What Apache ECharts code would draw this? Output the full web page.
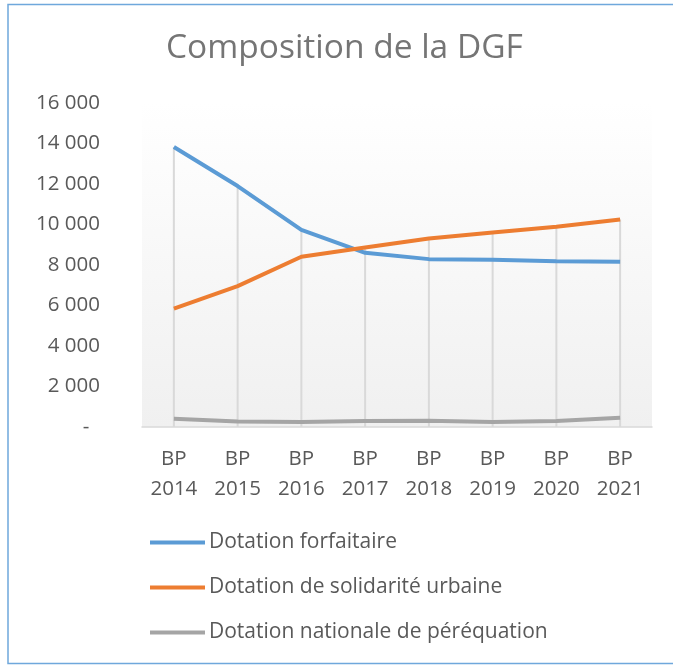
<!DOCTYPE html>
<html>
<head>
<meta charset="utf-8">
<script src="https://cdn.jsdelivr.net/npm/echarts@6/dist/echarts.min.js"></script>
<style>
  html, body { margin: 0; padding: 0; background: #fff; }
  #chart { width: 673px; height: 665px; }
</style>
</head>
<body>
<div id="chart"></div>
<script>
const years = ['BP\n2014', 'BP\n2015', 'BP\n2016', 'BP\n2017', 'BP\n2018', 'BP\n2019', 'BP\n2020', 'BP\n2021'];
const forfaitaire = [13830, 11900, 9730, 8600, 8290, 8260, 8180, 8160];
const solidarite = [5850, 6960, 8410, 8860, 9310, 9610, 9890, 10250];
const perequation = [410, 270, 250, 300, 310, 250, 300, 460];

// drop lines go from the highest series down to the axis
const dropTop = years.map((_, i) => Math.max(forfaitaire[i], solidarite[i], perequation[i]));

const FONT = 'Open Sans';
const chart = echarts.init(document.getElementById('chart'));

chart.setOption({
  animation: false,
  title: {
    text: 'Composition de la DGF',
    left: 161,
    top: 26,
    textStyle: { color: '#757575', fontSize: 33.5, fontWeight: 'normal', fontFamily: FONT }
  },
  grid: {
    left: 142, right: 21, top: 103, bottom: 238,
    show: true,
    borderWidth: 0,
    backgroundColor: new echarts.graphic.LinearGradient(0, 0, 0, 1, [
      { offset: 0, color: '#ffffff' },
      { offset: 1, color: '#f0f0f0' }
    ])
  },
  legend: {
    orient: 'vertical',
    left: 145,
    top: 527,
    itemGap: 24,
    itemWidth: 55,
    itemHeight: 4,
    icon: 'rect',
    textStyle: { color: '#595959', fontSize: 21, fontFamily: FONT, padding: [0, 0, 0, -1] },
    data: ['Dotation forfaitaire', 'Dotation de solidarité urbaine', 'Dotation nationale de péréquation']
  },
  xAxis: {
    type: 'category',
    data: years,
    axisLine: { lineStyle: { color: '#d9d9d9', width: 1.5 } },
    axisTick: { show: false },
    axisLabel: { color: '#595959', fontSize: 20.5, fontFamily: FONT, lineHeight: 30, margin: 17 }
  },
  yAxis: {
    type: 'value',
    min: 0,
    max: 16000,
    interval: 2000,
    splitLine: { show: false },
    axisLine: { show: false },
    axisTick: { show: false },
    axisLabel: {
      color: '#595959', fontSize: 20.5, fontFamily: FONT, margin: 42,
      formatter: v => v === 0 ? '-  ' : String(v).replace(/\B(?=(\d{3})+(?!\d))/g, ' ')
    }
  },
  series: [
    {
      type: 'bar',
      data: dropTop,
      barWidth: 2,
      silent: true,
      itemStyle: { color: '#d9d9d9' },
      z: 1
    },
    {
      name: 'Dotation forfaitaire',
      type: 'line',
      data: forfaitaire,
      symbol: 'none',
      color: '#5b9bd5',
      lineStyle: { width: 4, color: '#5b9bd5' },
      z: 3
    },
    {
      name: 'Dotation de solidarité urbaine',
      type: 'line',
      data: solidarite,
      symbol: 'none',
      color: '#ed7d31',
      lineStyle: { width: 4, color: '#ed7d31' },
      z: 3
    },
    {
      name: 'Dotation nationale de péréquation',
      type: 'line',
      data: perequation,
      symbol: 'none',
      color: '#a5a5a5',
      lineStyle: { width: 4, color: '#a5a5a5' },
      z: 3
    }
  ],
  graphic: [
    {
      type: 'rect',
      shape: { x: 8, y: 4.5, width: 680, height: 659 },
      style: { fill: 'none', stroke: '#6fa8dc', lineWidth: 1.5 },
      silent: true
    }
  ]
});
</script>
</body>
</html>
